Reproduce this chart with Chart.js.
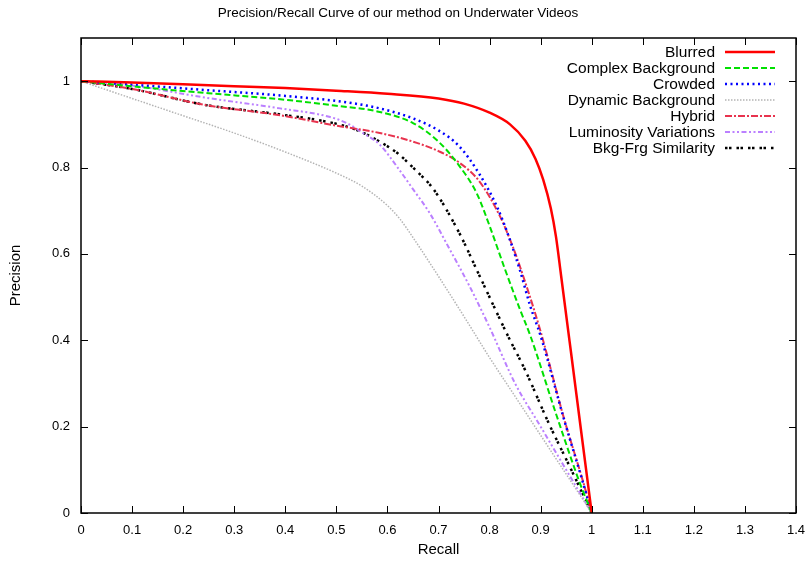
<!DOCTYPE html>
<html>
<head>
<meta charset="utf-8">
<script src="https://cdn.jsdelivr.net/npm/chart.js@4/dist/chart.umd.min.js"></script>
<style>
  html, body { margin: 0; padding: 0; background: #fff; }
  #wrap { width: 810px; height: 561px; }
</style>
</head>
<body>
<div id="wrap"><canvas id="prChart"></canvas></div>
<script>
// ===== data =====
const seriesNames = ['Blurred', 'Complex Background', 'Crowded', 'Dynamic Background',
                     'Hybrid', 'Luminosity Variations', 'Bkg-Frg Similarity'];

const xTicks = [0, 0.1, 0.2, 0.3, 0.4, 0.5, 0.6, 0.7, 0.8, 0.9, 1, 1.1, 1.2, 1.3, 1.4];
const yTicks = [0, 0.2, 0.4, 0.6, 0.8, 1];

const blurredR = [0, 0.1, 0.2, 0.3, 0.4, 0.5, 0.6, 0.7, 0.75, 0.8, 0.84, 0.87, 0.89, 0.905, 0.92, 0.93, 0.94, 0.96, 0.98, 1];
const blurredP = [1, 0.997, 0.993, 0.988, 0.984, 0.978, 0.971, 0.96, 0.948, 0.927, 0.9, 0.862, 0.82, 0.772, 0.705, 0.64, 0.55, 0.367, 0.183, 0];

const complexR = [0, 0.1, 0.25, 0.4, 0.5, 0.58, 0.65, 0.7, 0.74, 0.775, 0.8, 0.83, 0.86, 0.88, 0.93, 0.975, 1];
const complexP = [1, 0.988, 0.972, 0.957, 0.943, 0.93, 0.903, 0.86, 0.805, 0.74, 0.665, 0.565, 0.47, 0.41, 0.23, 0.075, 0];

const crowdedR = [0, 0.1, 0.25, 0.39, 0.52, 0.585, 0.65, 0.7, 0.74, 0.78, 0.815, 0.84, 0.86, 0.88, 0.9, 0.945, 0.983, 1];
const crowdedP = [1, 0.992, 0.979, 0.967, 0.951, 0.937, 0.914, 0.886, 0.85, 0.785, 0.708, 0.632, 0.56, 0.478, 0.41, 0.22, 0.07, 0];

const dynamicR = [0, 0.1, 0.2, 0.3, 0.4, 0.5, 0.55, 0.6, 0.625, 0.65, 0.7, 0.75, 0.8, 0.85, 0.9, 0.95, 1];
const dynamicP = [1, 0.96, 0.92, 0.88, 0.836, 0.787, 0.757, 0.712, 0.68, 0.638, 0.548, 0.455, 0.36, 0.27, 0.18, 0.09, 0];

const hybridR = [0, 0.1, 0.243, 0.39, 0.5, 0.585, 0.65, 0.7, 0.74, 0.78, 0.82, 0.846, 0.873, 0.9, 0.945, 0.985, 1];
const hybridP = [1, 0.982, 0.945, 0.921, 0.897, 0.88, 0.86, 0.838, 0.812, 0.768, 0.688, 0.615, 0.523, 0.42, 0.222, 0.065, 0];

const lumR = [0, 0.1, 0.243, 0.39, 0.488, 0.52, 0.552, 0.585, 0.62, 0.65, 0.683, 0.72, 0.76, 0.8, 0.85, 0.9, 0.95, 1];
const lumP = [1, 0.99, 0.962, 0.937, 0.917, 0.903, 0.88, 0.853, 0.8, 0.75, 0.694, 0.615, 0.527, 0.43, 0.3, 0.2, 0.1, 0];

const simR = [0, 0.1, 0.243, 0.39, 0.49, 0.54, 0.585, 0.62, 0.65, 0.69, 0.74, 0.78, 0.836, 0.87, 0.915, 0.96, 1];
const simP = [1, 0.982, 0.945, 0.923, 0.904, 0.887, 0.86, 0.833, 0.8, 0.75, 0.65, 0.55, 0.41, 0.33, 0.21, 0.1, 0];

// ===== styles =====
const lineColors = ['#ff0000', '#00e000', '#0000ff', '#b4b4b4', '#e8334e', '#bb80ff', '#000000'];
const lineWidths = [2.5, 2, 2.5, 1.5, 2, 2, 2.5];
const lineDashes = [[], [6, 3], [2, 3.5], [1.5, 1.5], [7, 2, 2, 2], [5, 2.5, 2, 2.5, 2, 2.5], [2.5, 1.5, 2.5, 5]];

function toPoints(xs, ys){
    return xs.map((x, i) => ({x: x, y: ys[i]}));
}

const allSeries = [
    toPoints(blurredR, blurredP),
    toPoints(complexR, complexP),
    toPoints(crowdedR, crowdedP),
    toPoints(dynamicR, dynamicP),
    toPoints(hybridR, hybridP),
    toPoints(lumR, lumP),
    toPoints(simR, simP)
];

const datasets = seriesNames.map((name, i) => ({
    label: name,
    data: allSeries[i],
    borderColor: lineColors[i],
    borderWidth: lineWidths[i],
    borderDash: lineDashes[i],
    pointRadius: 0,
    fill: false,
    cubicInterpolationMode: 'monotone',
    order: i
}));

const FONT = '"Liberation Sans", Arial, Helvetica, sans-serif';

// gnuplot-like frame with inward ticks on all four sides
const framePlugin = {
    id: 'frame',
    afterDatasetsDraw(chart){
        const {ctx, chartArea: a, scales} = chart;
        ctx.save();
        ctx.strokeStyle = '#000';
        ctx.lineWidth = 1.5;
        ctx.setLineDash([]);
        ctx.strokeRect(a.left, a.top, a.right - a.left, a.bottom - a.top);
        ctx.lineWidth = 1;
        ctx.beginPath();
        const tl = 7;
        xTicks.forEach(v => {
            const px = Math.round(scales.x.getPixelForValue(v)) + 0.5;
            ctx.moveTo(px, a.bottom); ctx.lineTo(px, a.bottom - tl);
            ctx.moveTo(px, a.top); ctx.lineTo(px, a.top + tl);
        });
        yTicks.forEach(v => {
            const py = Math.round(scales.y.getPixelForValue(v)) + 0.5;
            ctx.moveTo(a.left, py); ctx.lineTo(a.left + tl, py);
            ctx.moveTo(a.right, py); ctx.lineTo(a.right - tl, py);
        });
        ctx.stroke();
        ctx.restore();
    }
};

// legend inside the plot, text right aligned and sample on the right
const keyPlugin = {
    id: 'key',
    afterDraw(chart){
        const ctx = chart.ctx;
        const a = chart.chartArea;
        const textRight = a.right - 81;
        const sampleL = a.right - 71;
        const sampleR = a.right - 21;
        let y = a.top + 14;
        ctx.save();
        ctx.font = '15.5px ' + FONT;
        ctx.textAlign = 'right';
        ctx.textBaseline = 'middle';
        chart.data.datasets.forEach(ds => {
            ctx.fillStyle = '#000';
            ctx.fillText(ds.label, textRight, y + 1);
            ctx.strokeStyle = ds.borderColor;
            ctx.lineWidth = ds.borderWidth;
            ctx.setLineDash(ds.borderDash);
            ctx.beginPath();
            ctx.moveTo(sampleL, y);
            ctx.lineTo(sampleR, y);
            ctx.stroke();
            y += 16;
        });
        ctx.restore();
    }
};

const ctx = document.getElementById('prChart');

const prChart = new Chart(ctx, {
    type: 'line',
    data: { datasets: datasets },
    options: {
        responsive: true,
        maintainAspectRatio: false,
        animation: false,
        layout: { padding: { top: 0, right: 14, left: 0, bottom: 0 } },
        plugins: {
            legend: { display: false },
            tooltip: { enabled: false },
            title: {
                display: true,
                text: 'Precision/Recall Curve of our method on Underwater Videos',
                color: '#000',
                font: { family: FONT, size: 13.5, weight: 'normal' },
                padding: { top: 5, bottom: 16.8 }
            }
        },
        scales: {
            x: {
                type: 'linear',
                min: 0,
                max: 1.4,
                grid: { display: false, drawTicks: false },
                border: { display: false },
                afterBuildTicks: s => { s.ticks = xTicks.map(v => ({value: v})); },
                afterFit: s => { s.height = 48; s.paddingRight = 0; s.paddingLeft = 0; },
                ticks: {
                    color: '#000',
                    padding: 10,
                    maxRotation: 0,
                    font: { family: FONT, size: 13 },
                    callback: v => String(v)
                },
                title: {
                    display: true,
                    text: 'Recall',
                    color: '#000',
                    font: { family: FONT, size: 15 },
                    padding: { top: 0, bottom: 2 }
                }
            },
            y: {
                type: 'linear',
                min: 0,
                max: 1.1,
                grid: { display: false, drawTicks: false },
                border: { display: false },
                afterBuildTicks: s => { s.ticks = yTicks.map(v => ({value: v})); },
                afterFit: s => { s.width = 81; s.paddingTop = 0; s.paddingBottom = 0; },
                ticks: {
                    color: '#000',
                    padding: 11,
                    font: { family: FONT, size: 13 },
                    callback: v => String(v)
                },
                title: {
                    display: true,
                    text: 'Precision',
                    color: '#000',
                    font: { family: FONT, size: 15 },
                    padding: { top: 7, bottom: 0 }
                }
            }
        }
    },
    plugins: [framePlugin, keyPlugin]
});
</script>
</body>
</html>
